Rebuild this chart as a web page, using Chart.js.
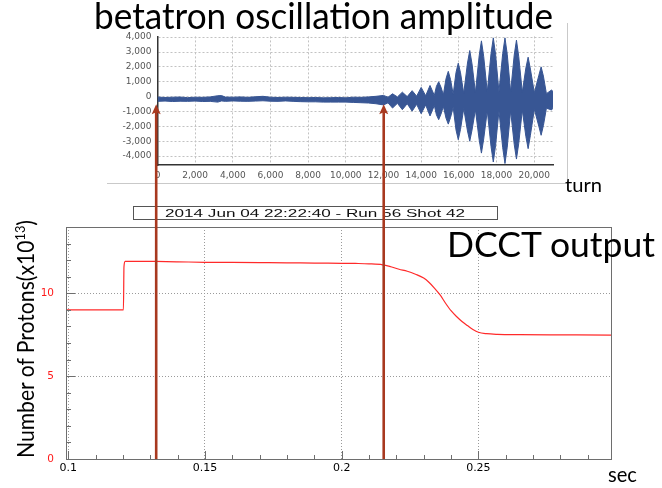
<!DOCTYPE html>
<html>
<head>
<meta charset="utf-8">
<script src="https://cdn.jsdelivr.net/npm/chart.js@4.4.1/dist/chart.umd.min.js"></script>
<style>
  html, body { margin: 0; padding: 0; background: #fff; }
  body { width: 662px; height: 488px; position: relative; overflow: hidden; }
  canvas, svg { position: absolute; display: block; }
  #turnCanvas { left: 100px; top: 25px; }
  #dcctCanvas { left: 0; top: 200px; }
  #labels { left: 0; top: 0; pointer-events: none; }
  #arrows { left: 0; top: 0; pointer-events: none; }
</style>
</head>
<body>
<canvas id="turnCanvas" width="466" height="158"></canvas>
<canvas id="dcctCanvas" width="662" height="288"></canvas>

<svg id="labels" width="662" height="488" xmlns="http://www.w3.org/2000/svg">
  <!-- frame of the oscillation panel -->
  <line x1="107" y1="183.5" x2="567.5" y2="183.5" stroke="#c9c9c9" stroke-width="1"/>
  <line x1="567.5" y1="23" x2="567.5" y2="183.5" stroke="#c9c9c9" stroke-width="1"/>
  <text x="94" y="28.5" font-family="Lato, 'Open Sans', sans-serif" font-size="36"
        textLength="459" lengthAdjust="spacingAndGlyphs" fill="#000">betatron oscillation amplitude</text>
  <text x="565" y="191.7" font-family="Lato, 'Open Sans', sans-serif" font-size="20"
        textLength="37" lengthAdjust="spacingAndGlyphs" fill="#000">turn</text>
  <!-- run stamp -->
  <rect x="133.5" y="206.5" width="364" height="13" fill="#fff" stroke="#555" stroke-width="1"/>
  <text x="165" y="217.3" font-family="'Liberation Sans', Arial, sans-serif" font-size="10.5"
        textLength="300" lengthAdjust="spacingAndGlyphs" fill="#111">2014 Jun 04 22:22:40 - Run 56 Shot 42</text>
  <text x="447" y="256.7" font-family="Lato, 'Open Sans', sans-serif" font-size="35"
        textLength="208" lengthAdjust="spacingAndGlyphs" fill="#000">DCCT output</text>
  <text x="608" y="481.7" font-family="Lato, 'Open Sans', sans-serif" font-size="21"
        textLength="29" lengthAdjust="spacingAndGlyphs" fill="#000">sec</text>
  <text transform="translate(34,458) rotate(-90)" x="0" y="0"
        font-family="Lato, 'Open Sans', sans-serif" font-size="23"
        textLength="238" lengthAdjust="spacingAndGlyphs" fill="#000">Number of Protons(x10<tspan dy="-9" font-size="14">13</tspan><tspan dy="9">)</tspan></text>
</svg>

<canvas id="arrows" width="662" height="488"></canvas>

<script>
// ---- betatron oscillation envelope (turn number vs. amplitude) ----
const turns = [
  0, 400, 800, 1200, 1600, 2000, 2400, 2800, 3200, 3400, 3600, 4000, 4400, 4800,
  5200, 5600, 6000, 6400, 6800, 7200, 7600, 8000, 8400, 8800, 9200, 9600, 10000,
  10400, 10800, 11200, 11600, 12000, 12240, 12480, 12740, 13000, 13260, 13520,
  13760, 14000, 14240, 14470, 14700,
  14810, 14930, 15050, 15180,
  15320, 15440, 15560, 15700,
  15850, 15970, 16090, 16260,
  16460, 16580, 16700, 16880,
  17080, 17200, 17320, 17510,
  17710, 17830, 17950, 18130,
  18330, 18450, 18570, 18750,
  18940, 19060, 19180, 19370,
  19560, 19680, 19800, 20010,
  20250, 20370, 20490, 20650,
  20930, 21000
];
const envelopeUpper = [
  -30, -60, -40, -30, -70, -40, -50, -20, 60, 70, -30, -40, -20, -50,
  -10, 20, -40, -60, -40, -50, -60, -70, -60, -80, -70, -60, -80,
  -40, -50, -20, 20, 80, -40, 190, -20, 300, 0, 400,
  30, 620, 60, 750, 80,
  690, 1000, 640, 120,
  1210, 1700, 1150, 160,
  1625, 2250, 1600, 220,
  2260, 3100, 2200, 280,
  2750, 3750, 2700, 320,
  2900, 3950, 2850, 330,
  2900, 3950, 2850, 320,
  2790, 3800, 2700, 300,
  1930, 2650, 1850, 260,
  1440, 2000, 1380, 200,
  450, 300
];
const envelopeLower = [
  -320, -300, -330, -310, -320, -300, -330, -320, -370, -290, -320, -290, -310, -320,
  -300, -280, -310, -320, -290, -320, -340, -350, -350, -370, -370, -370, -370,
  -390, -410, -430, -480, -560, -420, -770, -450, -880, -480, -980,
  -520, -1150, -560, -1300, -600,
  -1225, -1550, -1180, -660,
  -1450, -1850, -1400, -720,
  -2240, -2900, -2200, -800,
  -2310, -3000, -2250, -880,
  -2910, -3800, -2850, -950,
  -3360, -4400, -3300, -960,
  -3440, -4500, -3400, -950,
  -3210, -4200, -3150, -900,
  -2690, -3500, -2600, -850,
  -2010, -2600, -1950, -780,
  -900, -700
];
const turnTicks = [0, 2000, 4000, 6000, 8000, 10000, 12000, 14000, 16000, 18000, 20000];
const amplitudeTicks = [-4000, -3000, -2000, -1000, 0, 1000, 2000, 3000, 4000];

// ---- DCCT beam intensity (time in s vs. protons x1e13) ----
const dcctTime = [
  0.0992, 0.1202, 0.1204, 0.1208, 0.125, 0.132, 0.14, 0.15, 0.16, 0.17, 0.18,
  0.19, 0.2, 0.205, 0.21, 0.215, 0.218, 0.221, 0.224, 0.227, 0.23, 0.232,
  0.234, 0.236, 0.238, 0.240, 0.242, 0.244, 0.246, 0.248, 0.25, 0.253, 0.257,
  0.265, 0.28, 0.2985
];
const dcctProtons = [
  9.0, 9.0, 11.6, 11.93, 11.93, 11.92, 11.9, 11.87, 11.86, 11.85, 11.84,
  11.82, 11.81, 11.8, 11.78, 11.72, 11.6, 11.45, 11.33, 11.15, 10.92, 10.65,
  10.3, 9.9, 9.4, 8.95, 8.6, 8.3, 8.05, 7.82, 7.65, 7.56, 7.52,
  7.5, 7.49, 7.48
];
const timeTicks = [0.1, 0.15, 0.2, 0.25];
const timeMinorTicks = [0.11, 0.12, 0.13, 0.14, 0.16, 0.17, 0.18, 0.19, 0.21, 0.22, 0.23, 0.24, 0.26, 0.27, 0.28, 0.29];
const protonTicks = [0, 5, 10];
const protonMinorTicks = [1, 2, 3, 4, 6, 7, 8, 9, 11, 12, 13];

// moments marked on both panels (s)
const markerTimes = [0.1320, 0.2152];
const markerTipAmplitude = -520;

const BLUE = '#385694';
const RED = '#ff2a2a';
const ARROW = '#a8391f';

const fixedTicks = (vals) => (scale) => { scale.ticks = vals.map(v => ({ value: v })); };

const turnChart = new Chart(document.getElementById('turnCanvas'), {
  type: 'line',
  data: {
    datasets: [
      { data: turns.map((t, i) => ({ x: t, y: envelopeUpper[i] })),
        borderColor: BLUE, backgroundColor: BLUE, borderWidth: 1,
        pointRadius: 0, fill: '+1', tension: 0 },
      { data: turns.map((t, i) => ({ x: t, y: envelopeLower[i] })),
        borderColor: BLUE, backgroundColor: BLUE, borderWidth: 1,
        pointRadius: 0, fill: false, tension: 0 }
    ]
  },
  options: {
    responsive: false, animation: false, devicePixelRatio: 1,
    layout: { padding: { left: 0, right: 13, top: 5, bottom: 0 } },
    plugins: { legend: { display: false }, tooltip: { enabled: false } },
    scales: {
      x: {
        type: 'linear', min: 0, max: 21000,
        afterBuildTicks: fixedTicks(turnTicks),
        afterFit: (s) => { s.height = 18; },
        grid: { color: '#c2c2c2', lineWidth: 1, drawTicks: false },
        border: { display: true, color: '#333', width: 1.5, dash: [2, 2] },
        ticks: { color: '#555', padding: 5, maxRotation: 0, autoSkip: false,
                 font: { family: 'DejaVu Sans', size: 9 },
                 callback: (v) => v.toLocaleString('en-US') }
      },
      y: {
        type: 'linear', min: -4600, max: 4050,
        afterBuildTicks: fixedTicks(amplitudeTicks),
        afterFit: (s) => { s.width = 57.5; },
        grid: { color: '#c2c2c2', lineWidth: 1, drawTicks: false },
        border: { display: true, color: '#333', width: 1.5, dash: [2, 2] },
        ticks: { color: '#555', padding: 6, autoSkip: false,
                 font: { family: 'DejaVu Sans', size: 9 },
                 callback: (v) => v.toLocaleString('en-US') }
      }
    }
  }
});

// frame and inward tick marks in the ROOT style
const rootFrame = {
  id: 'rootFrame',
  afterDatasetsDraw(chart) {
    const { ctx, chartArea: a, scales: { x, y } } = chart;
    ctx.save();
    ctx.strokeStyle = '#6e6e6e';
    ctx.lineWidth = 1;
    ctx.beginPath();
    timeTicks.forEach(v => { const px = Math.round(x.getPixelForValue(v)) + 0.5; ctx.moveTo(px, a.bottom); ctx.lineTo(px, a.bottom - 8); });
    timeMinorTicks.forEach(v => { const px = Math.round(x.getPixelForValue(v)) + 0.5; ctx.moveTo(px, a.bottom); ctx.lineTo(px, a.bottom - 4); });
    protonTicks.forEach(v => { const py = Math.round(y.getPixelForValue(v)) + 0.5; ctx.moveTo(a.left, py); ctx.lineTo(a.left + 9, py); });
    protonMinorTicks.forEach(v => { const py = Math.round(y.getPixelForValue(v)) + 0.5; ctx.moveTo(a.left, py); ctx.lineTo(a.left + 5, py); });
    ctx.stroke();
    ctx.strokeRect(Math.round(a.left) + 0.5, Math.round(a.top) + 0.5, Math.round(a.right - a.left), Math.round(a.bottom - a.top));
    ctx.restore();
  }
};

const dcctChart = new Chart(document.getElementById('dcctCanvas'), {
  type: 'line',
  data: {
    datasets: [
      { data: dcctTime.map((t, i) => ({ x: t, y: dcctProtons[i] })),
        borderColor: RED, borderWidth: 1.2, pointRadius: 0, fill: false,
        cubicInterpolationMode: 'monotone' }
    ]
  },
  options: {
    responsive: false, animation: false, devicePixelRatio: 1,
    layout: { padding: { left: 0, right: 51, top: 27, bottom: 0 } },
    plugins: { legend: { display: false }, tooltip: { enabled: false } },
    scales: {
      x: {
        type: 'linear', min: 0.0992, max: 0.2985,
        afterBuildTicks: fixedTicks(timeTicks),
        afterFit: (s) => { s.height = 29; },
        grid: { color: '#9a9a9a', lineWidth: 1, drawTicks: false },
        border: { display: false, dash: [1, 2] },
        ticks: { color: '#000', padding: 3, maxRotation: 0, autoSkip: false,
                 font: { family: 'DejaVu Sans', size: 11 },
                 callback: (v) => String(v) }
      },
      y: {
        type: 'linear', min: 0, max: 14,
        afterBuildTicks: fixedTicks(protonTicks),
        afterFit: (s) => { s.width = 66; },
        grid: { color: '#9a9a9a', lineWidth: 1, drawTicks: false },
        border: { display: false, dash: [1, 2] },
        ticks: { color: '#ff1a1a', padding: 12, autoSkip: false,
                 font: { family: 'DejaVu Sans', size: 10.5 },
                 callback: (v) => String(v) }
      }
    }
  },
  plugins: [rootFrame]
});

// arrows linking the two panels at the marked moments
(function drawArrows() {
  const ctx = document.getElementById('arrows').getContext('2d');
  const dx = dcctChart.scales.x, dy = dcctChart.scales.y;
  const ty = turnChart.scales.y;
  const dcctTop = 200, turnTop = 25;
  const baseY = dcctTop + dy.getPixelForValue(0);
  const tipY = turnTop + ty.getPixelForValue(markerTipAmplitude);
  ctx.strokeStyle = ARROW;
  ctx.fillStyle = ARROW;
  ctx.lineWidth = 2.6;
  markerTimes.forEach(t => {
    const px = dx.getPixelForValue(t) + 0.5;
    ctx.beginPath();
    ctx.moveTo(px, baseY);
    ctx.lineTo(px, tipY + 7);
    ctx.stroke();
    ctx.beginPath();
    ctx.moveTo(px, tipY);
    ctx.lineTo(px - 4.5, tipY + 10);
    ctx.lineTo(px, tipY + 8);
    ctx.lineTo(px + 4.5, tipY + 10);
    ctx.closePath();
    ctx.fill();
  });
})();
</script>
</body>
</html>
